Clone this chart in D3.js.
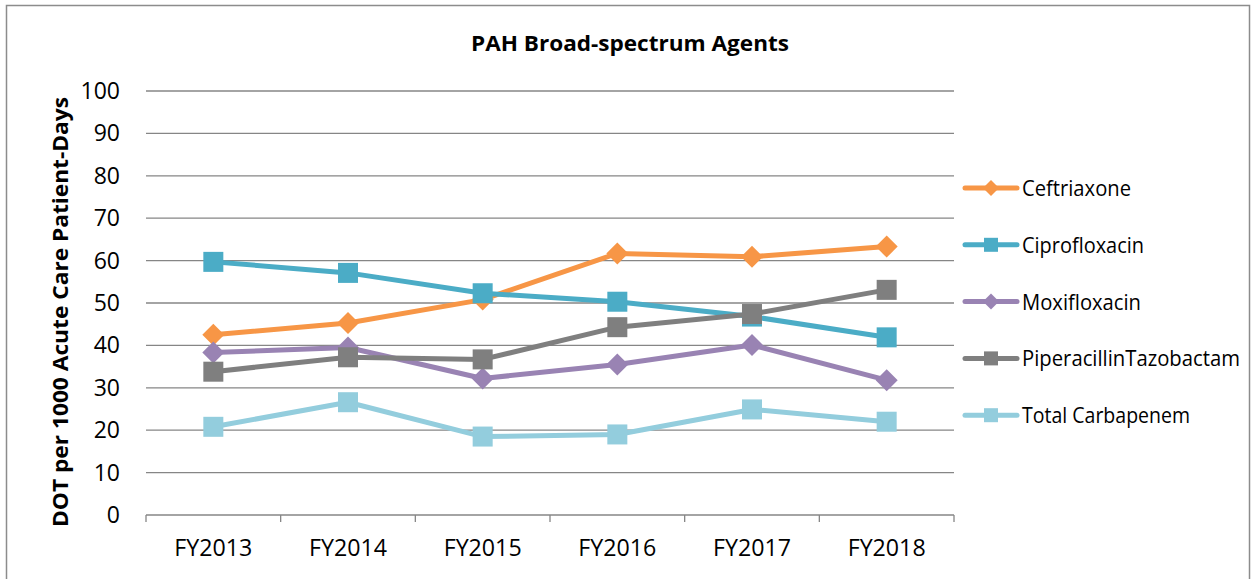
<!DOCTYPE html>
<html>
<head>
<meta charset="utf-8">
<script src="https://cdn.jsdelivr.net/npm/d3@7"></script>
<style>
  body { margin: 0; background: #fff; }
  svg text { font-family: "Open Sans", Lato, sans-serif; fill: #000; }
</style>
</head>
<body>
<svg id="chart" width="1255" height="579"></svg>
<script>
const years = ['FY2013', 'FY2014', 'FY2015', 'FY2016', 'FY2017', 'FY2018'];
const yTicks = [0, 10, 20, 30, 40, 50, 60, 70, 80, 90, 100];

const ceftriaxone = [42.5, 45.3, 50.8, 61.7, 60.9, 63.3];
const ciprofloxacin = [59.7, 57.1, 52.3, 50.3, 46.8, 41.9];
const moxifloxacin = [38.3, 39.5, 32.2, 35.5, 40.1, 31.8];
const piperacillin = [33.8, 37.2, 36.7, 44.3, 47.4, 53.1];
const carbapenem = [20.8, 26.6, 18.5, 19.0, 24.9, 22.0];

const series = [
  { name: 'Ceftriaxone', values: ceftriaxone, color: '#F79646', shape: 'diamond' },
  { name: 'Ciprofloxacin', values: ciprofloxacin, color: '#4BACC6', shape: 'square' },
  { name: 'Moxifloxacin', values: moxifloxacin, color: '#9983B3', shape: 'diamond' },
  { name: 'PiperacillinTazobactam', values: piperacillin, color: '#7F7F7F', shape: 'square' },
  { name: 'Total Carbapenem', values: carbapenem, color: '#93CDDD', shape: 'square' }
];

const svg = d3.select('#chart');

// outer frame
svg.append('rect')
  .attr('x', 6.5).attr('y', 5.5)
  .attr('width', 1243).attr('height', 590)
  .attr('fill', 'none')
  .attr('stroke', '#8c8c8c')
  .attr('stroke-width', 1.5);

const plot = { left: 146, right: 954, top: 91, bottom: 515 };

const x = d3.scaleBand()
  .domain(years)
  .range([plot.left, plot.right]);

const y = d3.scaleLinear()
  .domain([0, 100])
  .range([plot.bottom, plot.top]);

// squeeze text to a measured width (Calibri in the original is narrow)
const fit = (sel, w) => {
  sel.each(function () {
    const len = this.getComputedTextLength();
    if (len > 0) d3.select(this).attr('textLength', w).attr('lengthAdjust', 'spacingAndGlyphs');
  });
};

// gridlines
svg.append('g')
  .selectAll('line')
  .data(yTicks.filter(d => d > 0))
  .join('line')
  .attr('x1', plot.left).attr('x2', plot.right)
  .attr('y1', d => y(d)).attr('y2', d => y(d))
  .attr('stroke', '#868686')
  .attr('stroke-width', 1.3);

// y axis labels
svg.append('g')
  .selectAll('text')
  .data(yTicks)
  .join('text')
  .attr('x', 120)
  .attr('y', d => y(d) + 8)
  .attr('text-anchor', 'end')
  .style('font-size', '23px')
  .text(d => d);

// x axis
const gx = svg.append('g')
  .attr('transform', `translate(0,${plot.bottom})`);
gx.append('line')
  .attr('x1', plot.left).attr('x2', plot.right)
  .attr('stroke', '#868686').attr('stroke-width', 1.3);
gx.selectAll('.sep')
  .data(d3.range(years.length + 1))
  .join('line')
  .attr('class', 'sep')
  .attr('x1', i => plot.left + i * x.step())
  .attr('x2', i => plot.left + i * x.step())
  .attr('y1', 0).attr('y2', 7)
  .attr('stroke', '#868686').attr('stroke-width', 1.3);
gx.selectAll('.lbl')
  .data(years)
  .join('text')
  .attr('class', 'lbl')
  .attr('x', d => x(d) + x.bandwidth() / 2)
  .attr('y', 41)
  .attr('text-anchor', 'middle')
  .style('font-size', '23px')
  .text(d => d)
  .call(fit, 78);

// title
svg.append('text')
  .attr('x', 630).attr('y', 51)
  .attr('text-anchor', 'middle')
  .style('font-size', '21px')
  .style('font-weight', 'bold')
  .text('PAH Broad-spectrum Agents')
  .call(fit, 318);

// y axis title
svg.append('text')
  .attr('transform', 'translate(68,312) rotate(-90)')
  .attr('text-anchor', 'middle')
  .style('font-size', '22px')
  .style('font-weight', 'bold')
  .text('DOT per 1000 Acute Care Patient-Days')
  .call(fit, 430);

const line = d3.line()
  .x((d, i) => x(years[i]) + x.bandwidth() / 2)
  .y(d => y(d));

const marker = (g, shape, color, cx, cy) => {
  if (shape === 'square') {
    g.append('rect')
      .attr('x', cx - 10).attr('y', cy - 10)
      .attr('width', 20).attr('height', 20)
      .attr('fill', color);
  } else {
    g.append('path')
      .attr('d', `M${cx},${cy - 11}L${cx + 11},${cy}L${cx},${cy + 11}L${cx - 11},${cy}Z`)
      .attr('fill', color);
  }
};

series.forEach(s => {
  const g = svg.append('g');
  g.append('path')
    .datum(s.values)
    .attr('d', line)
    .attr('fill', 'none')
    .attr('stroke', s.color)
    .attr('stroke-width', 5)
    .attr('stroke-linejoin', 'round');
  s.values.forEach((v, i) => {
    marker(g, s.shape, s.color, x(years[i]) + x.bandwidth() / 2, y(v));
  });
});

// legend
const legendWidths = [109, 122, 119, 218, 168];
const legend = svg.append('g');
series.forEach((s, i) => {
  const ly = 188 + i * 56.8;
  const g = legend.append('g');
  g.append('line')
    .attr('x1', 965).attr('x2', 1017)
    .attr('y1', ly).attr('y2', ly)
    .attr('stroke', s.color)
    .attr('stroke-width', 5)
    .attr('stroke-linecap', 'round');
  if (s.shape === 'square') {
    g.append('rect')
      .attr('x', 984).attr('y', ly - 7)
      .attr('width', 14).attr('height', 14)
      .attr('fill', s.color);
  } else {
    g.append('path')
      .attr('d', `M991,${ly - 8}L999,${ly}L991,${ly + 8}L983,${ly}Z`)
      .attr('fill', s.color);
  }
  g.append('text')
    .attr('x', 1022).attr('y', ly + 8)
    .style('font-size', '21px')
    .text(s.name)
    .call(fit, legendWidths[i]);
});
</script>
</body>
</html>
